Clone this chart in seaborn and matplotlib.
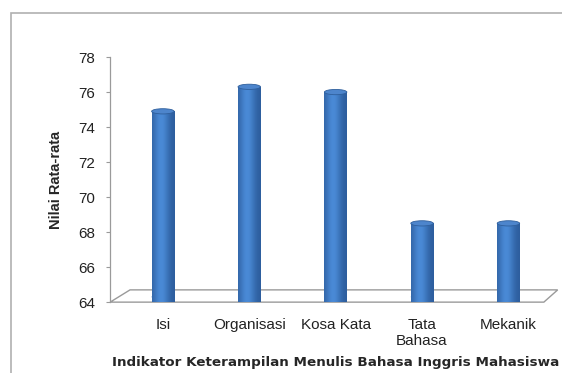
import numpy as np
import pandas as pd
import matplotlib
matplotlib.use("Agg")
import matplotlib.pyplot as plt
from matplotlib.patches import Ellipse, Polygon, Rectangle
import seaborn as sns

categories = ["Isi", "Organisasi", "Kosa Kata", "Tata\nBahasa", "Mekanik"]
values = [74.9, 76.3, 76.0, 68.5, 68.5]
y_ticks = [64, 66, 68, 70, 72, 74, 76, 78]

df = pd.DataFrame({"indikator": categories, "nilai": values})

sns.set_style("white")
plt.rcParams["font.family"] = ["Liberation Sans", "DejaVu Sans"]

fig = plt.figure(figsize=(5.62, 3.73), dpi=100)
ax = fig.add_axes([0.196, 0.19, 0.804, 0.657])

bar_w = 0.26
sns.barplot(data=df, x="indikator", y="nilai", color="#4080cc", width=bar_w,
            saturation=1, ax=ax, zorder=3)

xlim = (-0.61, 4.62)
ax.set_ylim(64, 78)
ax.set_xlim(*xlim)
ax.set_yticks(y_ticks)

# floor of the 3D plot
floor = Polygon([(-0.61, 64.0), (4.41, 64.0), (4.57, 64.7), (-0.38, 64.7)],
                closed=True, facecolor="white", edgecolor="#9a9a9a", lw=1.0,
                zorder=1, clip_on=False)
ax.add_patch(floor)

# cylinder shading and elliptical caps
grad = np.linspace(0, 1, 64)
shade = np.exp(-((grad - 0.4) ** 2) / 0.12)
cmap = matplotlib.colors.LinearSegmentedColormap.from_list(
    "cyl", ["#2d5e9e", "#4a8ad6"])
ell_h = 0.30
for patch, v in zip(ax.patches[:len(values)], values):
    x0 = patch.get_x()
    w = patch.get_width()
    img = ax.imshow(shade[np.newaxis, :], cmap=cmap, aspect="auto",
                    extent=[x0, x0 + w, 64, v], zorder=3.5)
    img.set_clip_path(patch)
    patch.set_edgecolor("none")
    ax.add_patch(Ellipse((x0 + w / 2, 64.3), w, ell_h, facecolor="#3a6fb2",
                         edgecolor="none", zorder=3.2, clip_on=False))
    ax.add_patch(Ellipse((x0 + w / 2, v), w, ell_h, facecolor="#4d85cc",
                         edgecolor="#2f5f9c", lw=0.6, zorder=4))

ax.set_ylim(64, 78)
ax.set_xlim(*xlim)

for s in ["top", "right", "bottom"]:
    ax.spines[s].set_visible(False)
ax.spines["left"].set_color("#9a9a9a")
ax.spines["left"].set_linewidth(0.9)
ax.tick_params(axis="y", left=True, length=3, color="#9a9a9a", labelsize=11,
               pad=8, labelcolor="#222222")
ax.tick_params(axis="x", bottom=False, labelsize=11, pad=8,
               labelcolor="#222222")

ax.set_ylabel("Nilai Rata-rata", fontsize=10.5, fontweight="bold",
              labelpad=11)
ax.set_xlabel("Indikator Keterampilan Menulis Bahasa Inggris Mahasiswa",
              fontsize=9.7, fontweight="bold", family="DejaVu Sans",
              va="center")
ax.xaxis.set_label_coords(0.5, -0.245)

# chart frame
fig.patches.append(Rectangle((11 / 562, -0.1), 1.2, 1 - 13 / 373 + 0.1,
                             transform=fig.transFigure, fill=False,
                             edgecolor="#b0b0b0", lw=1.2))

fig.savefig("out.png", dpi=100)
